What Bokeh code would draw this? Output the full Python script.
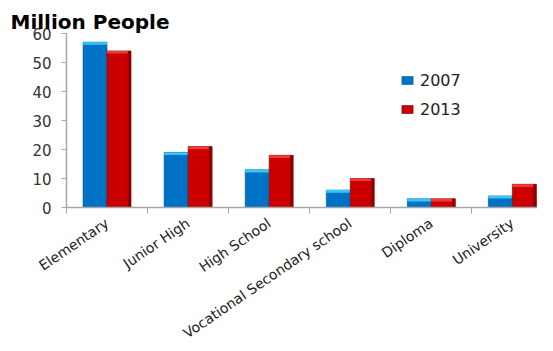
from bokeh.plotting import figure
from bokeh.models import Range1d, FixedTicker, Legend, LegendItem
from bokeh.embed import file_html
from bokeh.resources import INLINE

categories = ["Elementary", "Junior High", "High School",
              "Vocational Secondary school", "Diploma", "University"]
series_names = ["2007", "2013"]
values_2007 = [57, 19, 13, 6, 3, 4]
values_2013 = [54, 21, 18, 10, 3, 8]
y_ticks = [0, 10, 20, 30, 40, 50, 60]

n = len(categories)
centers = [i + 0.5 for i in range(n)]
bounds = list(range(n + 1))

FONT = "DejaVu Sans"

p = figure(width=537, height=350, output_backend="svg", toolbar_location=None,
           x_range=Range1d(0, 5.81), y_range=Range1d(0, 60),
           min_border_left=66, min_border_right=0, min_border_top=33,
           min_border_bottom=143)
p.outline_line_color = None
p.xgrid.visible = False
p.ygrid.visible = False
p.background_fill_color = "white"
p.border_fill_color = "white"

p.title.text = "Million People"
p.title.text_font = FONT
p.title.text_font_size = "20px"
p.title.text_font_style = "bold"
p.title.text_color = "black"
p.title.offset = -56
p.title.standoff = 0

bw = 0.296
off = 0.148
cap = 0.9
x07 = [c - off for c in centers]
x13 = [c + off for c in centers]

r07 = p.vbar(x=x07, top=values_2007, bottom=0, width=bw,
             fill_color="#0072C6", line_color="#005A9E", line_width=0.6)
p.vbar(x=x07, top=values_2007, bottom=[v - cap for v in values_2007], width=bw,
       fill_color="#33C8F5", line_color=None)
r13 = p.vbar(x=x13, top=values_2013, bottom=0, width=bw,
             fill_color="#CC0000", line_color="#7A0000", line_width=0.6)
p.vbar(x=x13, top=values_2013, bottom=[v - cap for v in values_2013], width=bw,
       fill_color="#F03A3A", line_color=None)
p.vbar(x=[x + bw / 2 - 0.02 for x in x13], top=values_2013, bottom=0, width=0.04,
       fill_color="#8E0000", line_color=None)

# y axis
ya = p.yaxis[0]
ya.ticker = FixedTicker(ticks=y_ticks)
ya.axis_line_color = "#A6A6A6"
ya.axis_line_width = 1.5
ya.major_tick_line_color = "#A6A6A6"
ya.major_tick_out = 5
ya.major_tick_in = 0
ya.minor_tick_line_color = None
ya.major_label_text_font = FONT
ya.major_label_text_font_size = "15px"
ya.major_label_text_color = "#333333"
ya.major_label_standoff = 10

# x axis
xa = p.xaxis[0]
xa.ticker = FixedTicker(ticks=centers, minor_ticks=bounds)
xa.major_label_overrides = {c: name for c, name in zip(centers, categories)}
xa.axis_line_color = "#A6A6A6"
xa.axis_line_width = 1.5
xa.major_tick_line_color = None
xa.minor_tick_line_color = "#A6A6A6"
xa.minor_tick_out = 6
xa.minor_tick_in = 0
xa.major_label_orientation = 0.6
xa.major_label_text_font = FONT
xa.major_label_text_font_size = "14px"
xa.major_label_text_color = "#222222"
xa.major_label_standoff = 8

legend = Legend(items=[LegendItem(label=series_names[0], renderers=[r07]),
                       LegendItem(label=series_names[1], renderers=[r13])],
                location=(334, 88), orientation="vertical",
                glyph_width=14, glyph_height=10, label_height=20, spacing=9,
                padding=0, margin=0, border_line_color=None,
                background_fill_alpha=0, label_standoff=6,
                label_text_font=FONT, label_text_font_size="16px",
                label_text_color="#222222")
p.add_layout(legend)

open("out.html", "w").write(file_html(p, INLINE))
